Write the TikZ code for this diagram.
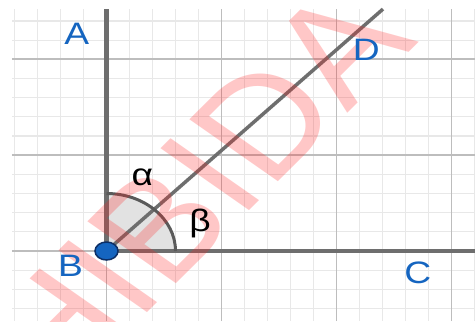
\documentclass[tikz,border=0pt]{standalone}
\usepackage{fontspec}
\setmainfont{Liberation Sans}
\usetikzlibrary{shapes.geometric}
\definecolor{GeoBlue}{HTML}{1565C0}
\definecolor{PointEdge}{HTML}{0D2F66}
\definecolor{LineGray}{HTML}{6E6E6E}
\definecolor{ArcGray}{HTML}{5A5A5A}
\definecolor{SectorGray}{HTML}{E2E2E2}
\definecolor{MajorGray}{HTML}{BDBDBD}
\definecolor{MinorGray}{HTML}{E8E8E8}
\definecolor{Stamp}{HTML}{FF2020}

\begin{document}
\begin{tikzpicture}[
    x=23pt, y=19.17pt,
    minor/.style={MinorGray, line width=1.2pt},
    major/.style={MajorGray, line width=1.6pt},
    ray/.style={LineGray, line width=4pt},
    lbl/.style={inner sep=0pt, font=\fontsize{31}{31}\selectfont, text=GeoBlue,
                xscale=1.2, transform shape},
    greek/.style={lbl, text=black},
    pt/.style={ellipse, draw=PointEdge, line width=1.5pt, fill=GeoBlue,
               minimum width=23pt, minimum height=18pt, inner sep=0pt}
  ]
    \useasboundingbox (-4.630,-3.652) rectangle (16.02,13.093);
    % grid
    \draw[minor] (-4.109,-3.652) grid[xstep=23pt, ystep=19.17pt] (16.02,12.62);
    \draw[major] (-4.109,-3.652) grid[xstep=115pt, ystep=95.85pt] (16.02,12.62);

    \coordinate (Bc) at (0,0);
    \coordinate (Atop) at (0,12.62);
    \coordinate (Cend) at (16.02,0);
    \coordinate (Dend) at (12.02,12.62);

    % angle sector
    \fill[SectorGray] (Bc) -- (3,0) arc[start angle=0, end angle=90, x radius=69pt, y radius=57.5pt] -- cycle;
    \draw[ray] (Bc) -- (Atop);
    \draw[ray] (Bc) -- (Cend);
    \draw[ray, line width=3.5pt] (Bc) -- (Dend);
    \draw[ArcGray, line width=3pt] (3,0) arc[start angle=0, end angle=90, x radius=69pt, y radius=57.5pt];

    % watermark
    \begin{scope}[shift={(-1.239,-2.869)}, xscale=1.2]
      \node[transform shape, rotate=50, inner sep=0pt, text=Stamp, text opacity=0.25,
            font=\fontsize{140}{140}\selectfont] (stamp) at (0,0) {PROHIBIDA};
    \end{scope}

    \node[pt] (B) at (Bc) {};
    \node[lbl] (lA) at (-1.29,11.33) {A};
    \node[lbl] (lB) at (-1.565,-0.79) {B};
    \node[lbl] (lC) at (13.53,-1.15) {C};
    \node[lbl] (lD) at (11.30,10.50) {D};
    \node[greek] (alpha) at (1.565,3.82) {α};
    \node[greek] (beta) at (4.07,1.41) {β};
  \end{tikzpicture}
\end{document}
